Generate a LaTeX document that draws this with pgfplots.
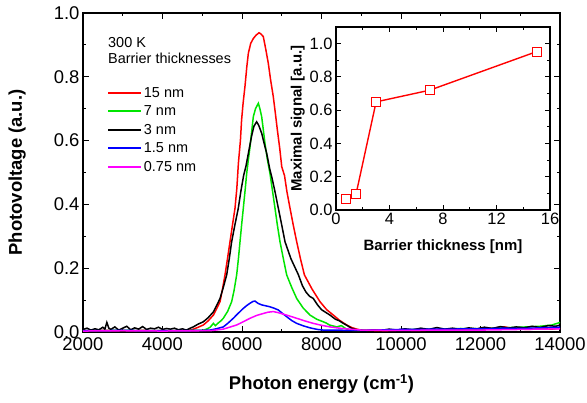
\documentclass[border=0pt]{standalone}
\usepackage{fontspec}
\setmainfont{Liberation Sans}
\usepackage{pgfplots}
\pgfplotsset{compat=1.18}
\definecolor{cred}{rgb}{1,0,0}
\definecolor{cgreen}{rgb}{0,0.9,0}
\definecolor{cblue}{rgb}{0,0,1}
\definecolor{cmag}{rgb}{1,0,1}
\begin{document}
\begin{tikzpicture}
\useasboundingbox (-83bp,-71bp) rectangle (504bp,332bp);
\begin{axis}[scale only axis,width=477bp,height=319bp,
  xmin=2000,xmax=14000,ymin=0,ymax=1,scaled ticks=false,
  xtick={2000,4000,...,14000},ytick={0,0.2,...,1.0},minor tick num=1,
  tick align=inside,major tick length=6bp,minor tick length=3.5bp,
  axis line style={line width=1.2bp},tick style={line width=1bp,black},
  /pgf/number format/assume math mode=true,
  /pgf/number format/1000 sep={},
  yticklabel style={/pgf/number format/fixed,/pgf/number format/precision=1,/pgf/number format/fixed zerofill},
  tick label style={font=\fontsize{18.5}{20}\selectfont},
  xticklabel style={yshift=-2bp},
  xlabel={\textbf{Photon energy (cm\textsuperscript{-1})}},
  ylabel={\textbf{Photovoltage (a.u.)}},
  xlabel style={at={(axis description cs:0.5,-0.163)},anchor=center},
  ylabel style={at={(axis description cs:-0.138,0.5)},anchor=center},
  label style={font=\fontsize{18.5}{20}\selectfont},
  legend style={at={(0.05,0.774)},anchor=north west,draw=none,fill=none,
    font=\fontsize{14.5}{16}\selectfont,inner sep=0pt,row sep=3bp},
  legend cell align=left,
  legend image code/.code={\draw[#1,line width=1.9bp](0bp,0bp)--(33bp,0bp);},
  every axis plot/.append style={line width=1.5bp}]
% 15 nm
\addplot[color=cred] coordinates {(2000,0.004)(2500,0.005)(3000,0.004)(3500,0.005)(4000,0.004)(4500,0.005)(4700,0.006)(4775,0.009)(4900,0.015)(5027,0.022)(5150,0.035)(5280,0.053)(5370,0.075)(5447,0.095)(5510,0.135)(5572,0.179)(5635,0.23)(5698,0.283)(5760,0.335)(5824,0.388)(5870,0.45)(5910,0.53)(5960,0.60)(5990,0.665)(6030,0.72)(6075,0.77)(6120,0.83)(6160,0.874)(6220,0.905)(6285,0.92)(6350,0.93)(6428,0.938)(6470,0.935)(6536,0.926)(6600,0.885)(6662,0.842)(6720,0.79)(6788,0.737)(6840,0.685)(6890,0.633)(6950,0.575)(7000,0.518)(7070,0.49)(7130,0.44)(7208,0.388)(7290,0.335)(7376,0.283)(7470,0.23)(7570,0.179)(7760,0.135)(7962,0.095)(8130,0.07)(8297,0.053)(8460,0.036)(8634,0.022)(8760,0.014)(8885,0.009)(9000,0.006)(9500,0.004)(10000,0.006)(10500,0.005)(11000,0.007)(11500,0.006)(12000,0.008)(12300,0.012)(12600,0.016)(12900,0.010)(13200,0.008)(13500,0.011)(13800,0.009)(14000,0.012)};
\addlegendentry{15 nm}
% 7 nm
\addplot[color=cgreen] coordinates {(2000,0.004)(3000,0.005)(4000,0.004)(5000,0.005)(5110,0.009)(5200,0.015)(5280,0.027)(5330,0.020)(5400,0.028)(5470,0.035)(5530,0.043)(5640,0.065)(5740,0.095)(5800,0.13)(5866,0.179)(5910,0.23)(5950,0.283)(5990,0.335)(6033,0.388)(6075,0.44)(6118,0.497)(6160,0.54)(6201,0.58)(6245,0.63)(6285,0.675)(6340,0.70)(6411,0.717)(6450,0.70)(6495,0.675)(6540,0.63)(6579,0.59)(6640,0.54)(6704,0.497)(6770,0.44)(6830,0.388)(6890,0.335)(6956,0.283)(7040,0.23)(7124,0.179)(7250,0.14)(7376,0.105)(7540,0.075)(7711,0.053)(7880,0.040)(8046,0.032)(8120,0.028)(8200,0.022)(8381,0.016)(8500,0.020)(8630,0.009)(8800,0.005)(9500,0.007)(10000,0.006)(10500,0.009)(11000,0.008)(11500,0.011)(12000,0.010)(12500,0.013)(13000,0.015)(13500,0.018)(13800,0.022)(14000,0.030)};
\addlegendentry{7 nm}
% 3 nm
\addplot[color=black] coordinates {(2000,0.008)(2100,0.012)(2200,0.006)(2300,0.010)(2400,0.007)(2500,0.015)(2550,0.009)(2600,0.030)(2650,0.012)(2700,0.008)(2800,0.016)(2900,0.006)(3000,0.012)(3100,0.018)(3200,0.007)(3300,0.013)(3400,0.009)(3500,0.017)(3600,0.008)(3700,0.012)(3800,0.010)(3900,0.015)(4000,0.008)(4100,0.011)(4200,0.009)(4300,0.012)(4400,0.007)(4500,0.010)(4600,0.006)(4700,0.012)(4775,0.016)(4900,0.025)(5027,0.032)(5150,0.045)(5280,0.063)(5370,0.085)(5447,0.105)(5530,0.140)(5615,0.179)(5680,0.23)(5740,0.283)(5820,0.335)(5907,0.388)(5970,0.44)(6040,0.49)(6100,0.52)(6160,0.56)(6243,0.615)(6300,0.645)(6368,0.659)(6420,0.648)(6495,0.623)(6560,0.59)(6621,0.56)(6700,0.51)(6747,0.487)(6830,0.44)(6914,0.388)(7000,0.335)(7082,0.283)(7230,0.23)(7420,0.179)(7520,0.145)(7610,0.125)(7700,0.112)(7794,0.105)(7900,0.085)(8000,0.070)(8100,0.062)(8214,0.053)(8350,0.040)(8450,0.035)(8549,0.027)(8650,0.020)(8750,0.012)(8850,0.008)(8950,0.006)(9100,0.004)(9300,0.007)(9500,0.005)(9700,0.009)(9900,0.006)(10100,0.010)(10300,0.007)(10500,0.012)(10700,0.008)(10900,0.014)(11100,0.009)(11300,0.012)(11500,0.008)(11700,0.013)(11900,0.010)(12100,0.015)(12300,0.011)(12500,0.017)(12700,0.012)(12900,0.016)(13100,0.013)(13300,0.018)(13500,0.014)(13700,0.020)(13900,0.018)(14000,0.022)};
\addlegendentry{3 nm}
% 1.5 nm
\addplot[color=cblue] coordinates {(2000,0.004)(3000,0.005)(4000,0.004)(5000,0.005)(5195,0.006)(5350,0.010)(5530,0.016)(5650,0.028)(5781,0.043)(5900,0.058)(6033,0.074)(6120,0.083)(6200,0.09)(6280,0.096)(6327,0.097)(6400,0.090)(6495,0.085)(6600,0.082)(6704,0.079)(6800,0.075)(6914,0.069)(7020,0.058)(7124,0.048)(7250,0.036)(7376,0.027)(7550,0.019)(7711,0.013)(7900,0.008)(8046,0.006)(9000,0.005)(10000,0.008)(11000,0.009)(12000,0.010)(12600,0.012)(13000,0.011)(13500,0.013)(14000,0.015)};
\addlegendentry{1.5 nm}
% 0.75 nm
\addplot[color=cmag] coordinates {(2000,0.003)(3000,0.004)(4000,0.003)(5000,0.004)(5195,0.004)(5530,0.009)(5866,0.022)(6030,0.032)(6201,0.043)(6370,0.052)(6536,0.058)(6650,0.062)(6788,0.064)(6900,0.061)(7040,0.056)(7200,0.050)(7376,0.043)(7600,0.034)(7794,0.027)(8000,0.021)(8214,0.016)(8450,0.012)(8717,0.009)(9000,0.006)(10000,0.005)(11000,0.006)(12000,0.006)(13000,0.008)(14000,0.010)};
\addlegendentry{0.75 nm}
\node[anchor=west,font=\fontsize{14.5}{16}\selectfont,inner sep=0pt] at (axis cs:2629,0.906) {300 K};
\node[anchor=west,font=\fontsize{14.5}{16}\selectfont,inner sep=0pt] at (axis cs:2629,0.859) {Barrier thicknesses};
\end{axis}
\begin{axis}[at={(253bp,122bp)},anchor=south west,scale only axis,width=214bp,height=183bp,
  xmin=0,xmax=16,ymin=0,ymax=1.1,
  xtick={0,4,...,16},ytick={0,0.2,...,1.0},minor tick num=1,
  tick align=inside,major tick length=5bp,minor tick length=3bp,
  axis line style={line width=1.2bp},tick style={line width=1bp,black},
  axis background/.style={fill=white},
  /pgf/number format/assume math mode=true,
  yticklabel style={/pgf/number format/fixed,/pgf/number format/precision=1,/pgf/number format/fixed zerofill},
  tick label style={font=\fontsize{16.5}{18}\selectfont},
  xlabel={\textbf{Barrier thickness [nm]}},
  ylabel={\textbf{Maximal signal [a.u.]}},
  xlabel style={at={(axis description cs:0.5,-0.2)},anchor=center},
  ylabel style={at={(axis description cs:-0.178,0.5)},anchor=center},
  label style={font=\fontsize{15}{17}\selectfont}]
\addplot[color=cred,line width=1.4bp,mark=square*,mark size=4.6bp,
  mark options={solid,draw=cred,fill=white,line width=1bp}] coordinates {(0.75,0.064)(1.5,0.096)(3,0.65)(7,0.72)(15,0.952)};
\end{axis}
\end{tikzpicture}
\end{document}
